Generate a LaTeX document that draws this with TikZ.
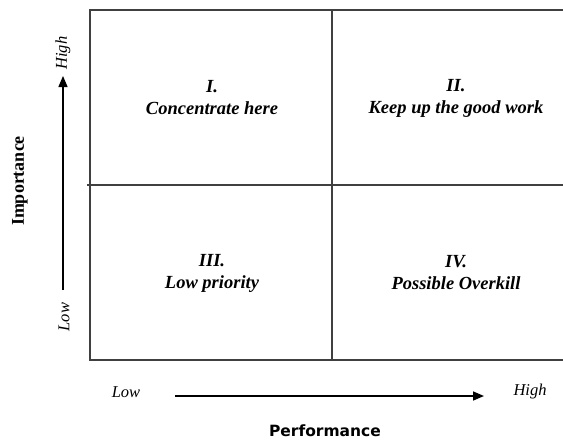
\documentclass[tikz,border=0pt]{standalone}
\usepackage{fontspec}
\setmainfont{Liberation Serif}
\newfontfamily\axisfont{DejaVu Sans}
\usetikzlibrary{arrows.meta}
\begin{document}
\begin{tikzpicture}[x=1pt,y=-1pt,
  grid/.style={draw=black!75,line width=1.3pt},
  axisarrow/.style={draw=black,line width=1.6pt,-{Triangle[length=11pt,width=9pt]}},
  quad/.style={align=center,font=\fontsize{18.5}{22}\selectfont\bfseries\itshape,inner sep=0pt},
  tick/.style={font=\fontsize{16.5}{18}\selectfont\itshape,inner sep=0pt},
  title/.style={inner sep=0pt}]
\useasboundingbox (0,0) rectangle (563,440);

% grid of the four quadrants (open on the right side)
\coordinate (tl) at (90,10);
\coordinate (bl) at (90,360);
\coordinate (tr) at (563,10);
\coordinate (br) at (563,360);
\coordinate (ml) at (87,185);
\coordinate (mr) at (563,185);
\coordinate (mt) at (332,10);
\coordinate (mb) at (332,360);
\draw[grid] (tr) -- (tl) -- (bl) -- (br);
\draw[grid] (ml) -- (mr);
\draw[grid] (mt) -- (mb);

% quadrant labels
\node[quad] (q1) at (212,98) {I.\\Concentrate here};
\node[quad] (q2) at (456,98) {II.\\Keep up the good work};
\node[quad] (q3) at (212,273) {III.\\Low priority};
\node[quad] (q4) at (456,273) {IV.\\Possible Overkill};

% vertical axis
\coordinate (ylo) at (63,290);
\coordinate (yhi) at (63,76);
\draw[axisarrow,line width=1.3pt] (ylo) -- (yhi);
\node[tick,rotate=90] (ylow) at (64,317) {Low};
\node[tick,rotate=90] (yhigh) at (63,53) {High};
\node[title,rotate=90,font=\fontsize{18}{20}\selectfont\bfseries] (ytitle) at (20,181) {Importance};

% horizontal axis
\coordinate (xlo) at (175,396);
\coordinate (xhi) at (484,396);
\draw[axisarrow] (xlo) -- (xhi);
\node[tick] (xlow) at (126,392) {Low};
\node[tick] (xhigh) at (530,392) {High};
\node[title,font=\axisfont\fontsize{15.5}{18}\selectfont\bfseries] (xtitle) at (325,431) {Performance};
\end{tikzpicture}
\end{document}
